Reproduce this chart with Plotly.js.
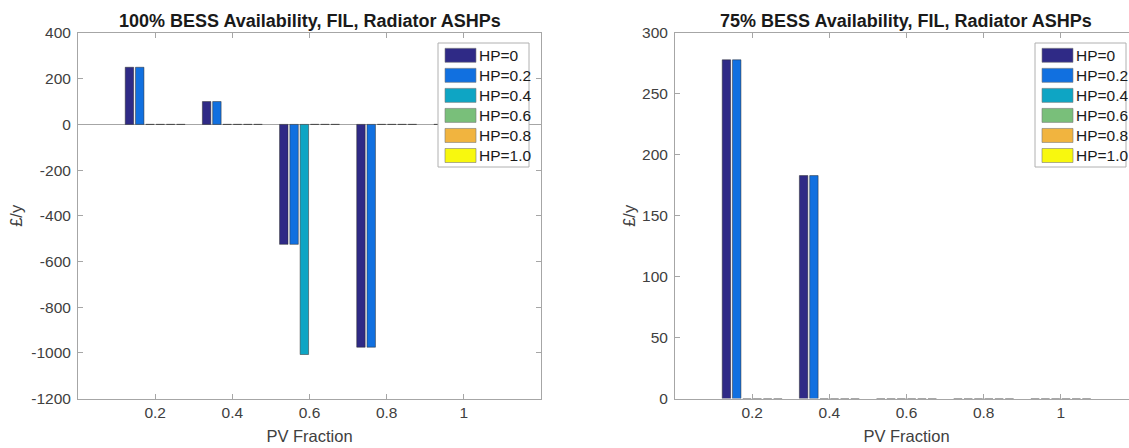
<!DOCTYPE html>
<html>
<head>
<meta charset="utf-8">
<script src="https://cdn.plot.ly/plotly-3.0.1.min.js"></script>
<style>
  html, body { margin: 0; padding: 0; overflow: hidden; background: #fff; }
  #chart { width: 1145px; height: 448px; }
</style>
</head>
<body>
<div id="chart"></div>
<script>
// ---------- data ----------
const pvFraction = [0.2, 0.4, 0.6, 0.8, 1.0];
const pvTickText = ['0.2', '0.4', '0.6', '0.8', '1'];
const hpLabels = ['HP=0', 'HP=0.2', 'HP=0.4', 'HP=0.6', 'HP=0.8', 'HP=1.0'];

const leftYTicks = [-1200, -1000, -800, -600, -400, -200, 0, 200, 400];
const leftYTickText = ['-1200', '-1000', '-800', '-600', '-400', '-200', '0', '200', '400'];
const rightYTicks = [0, 50, 100, 150, 200, 250, 300];
const rightYTickText = ['0', '50', '100', '150', '200', '250', '300'];

// 100% BESS availability (left panel), £/y
const full_hp00 = [250, 100, -525, -975, 0];
const full_hp02 = [250, 100, -525, -975, 0];
const full_hp04 = [0, 0, -1007, 0, 0];
const full_hp06 = [0, 0, 0, 0, 0];
const full_hp08 = [0, 0, 0, 0, 0];
const full_hp10 = [0, 0, 0, 0, 0];

// 75% BESS availability (right panel), £/y
const part_hp00 = [278, 183, 0, 0, 0];
const part_hp02 = [278, 183, 0, 0, 0];
const part_hp04 = [0, 0, 0, 0, 0];
const part_hp06 = [0, 0, 0, 0, 0];
const part_hp08 = [0, 0, 0, 0, 0];
const part_hp10 = [0, 0, 0, 0, 0];

const leftTitle = '100% BESS Availability, FIL, Radiator ASHPs';
const rightTitle = '75% BESS Availability, FIL, Radiator ASHPs';
const yTitle = '£/y';
const xTitle = 'PV Fraction';

// ---------- style ----------
const colors = ['#2f2a86', '#1170e0', '#0ea5c4', '#79bf7a', '#f1b43f', '#f8f80e'];
const FONT = 'Liberation Sans, Arial, sans-serif';
const W = 1145, H = 448;
const fx = p => p / W;
const fy = p => 1 - p / H;

const leftSeries = [full_hp00, full_hp02, full_hp04, full_hp06, full_hp08, full_hp10];
const rightSeries = [part_hp00, part_hp02, part_hp04, part_hp06, part_hp08, part_hp10];

const traces = [];
leftSeries.forEach((ys, i) => traces.push({
  type: 'bar', x: pvFraction, y: ys, name: hpLabels[i], xaxis: 'x', yaxis: 'y',
  marker: { color: colors[i], line: { color: '#2a2a2a', width: 0.5 } }, showlegend: false
}));
rightSeries.forEach((ys, i) => traces.push({
  type: 'bar', x: pvFraction, y: ys, name: hpLabels[i], xaxis: 'x2', yaxis: 'y2',
  marker: { color: colors[i], line: { color: '#2a2a2a', width: 0.5 } }, showlegend: false
}));

const axisCommon = {
  showline: true, linecolor: '#a6a6a6', linewidth: 1, mirror: 'ticks',
  ticks: 'inside', ticklen: 5, tickcolor: '#a6a6a6', showgrid: false,
  tickfont: { family: FONT, size: 15.5, color: '#404040' }
};

const panels = [
  { x0: 78, x1: 541 },
  { x0: 675, x1: 1138 }
];
const yTop = 33, yBot = 398.6;

function xAxis(p) {
  return Object.assign({}, axisCommon, {
    domain: [fx(p.x0), fx(p.x1)], range: [0, 1.2], tickvals: pvFraction, ticktext: pvTickText,
    zeroline: false,
    title: { text: xTitle, font: { family: FONT, size: 16.5, color: '#404040' }, standoff: 10 }
  });
}

const layout = {
  width: W, height: H,
  margin: { l: 0, r: 0, t: 0, b: 0 },
  paper_bgcolor: '#fff', plot_bgcolor: '#fff',
  barmode: 'group', bargap: 0.2, bargroupgap: 0.18,
  showlegend: false,
  xaxis: Object.assign(xAxis(panels[0]), { anchor: 'y' }),
  xaxis2: Object.assign(xAxis(panels[1]), { anchor: 'y2' }),
  yaxis: Object.assign({}, axisCommon, {
    domain: [fy(yBot), fy(yTop)], range: [-1200, 400], tickvals: leftYTicks, ticktext: leftYTickText,
    ticklabelstandoff: 3,
    zeroline: true, zerolinecolor: '#a6a6a6', zerolinewidth: 1, anchor: 'x',
    title: { text: yTitle, font: { family: FONT, size: 16.5, color: '#404040' }, standoff: 4 }
  }),
  yaxis2: Object.assign({}, axisCommon, {
    domain: [fy(yBot), fy(yTop)], range: [0, 300], tickvals: rightYTicks, ticktext: rightYTickText,
    ticklabelstandoff: 3,
    zeroline: false, anchor: 'x2',
    title: { text: yTitle, font: { family: FONT, size: 16.5, color: '#404040' }, standoff: 2 }
  }),
  annotations: [],
  shapes: []
};

// subplot titles
[leftTitle, rightTitle].forEach((t, k) => {
  const p = panels[k];
  layout.annotations.push({
    xref: 'paper', yref: 'paper', x: fx((p.x0 + p.x1) / 2), y: fy(21),
    xanchor: 'center', yanchor: 'middle', showarrow: false,
    text: '<b>' + t + '</b>', font: { family: FONT, size: 18, color: '#1a1a1a' }
  });
});

// legends (MATLAB-style, inside top-right of each axes)
panels.forEach(p => {
  const right = p.x1 - 12, left = right - 91, top = 43, bottom = 167;
  layout.shapes.push({
    type: 'rect', xref: 'paper', yref: 'paper',
    x0: fx(left), x1: fx(right), y0: fy(bottom), y1: fy(top),
    fillcolor: '#ffffff', line: { color: '#b0b0b0', width: 1 }, layer: 'above'
  });
  hpLabels.forEach((lab, i) => {
    const cy = 55.3 + 20.04 * i;
    layout.shapes.push({
      type: 'rect', xref: 'paper', yref: 'paper',
      x0: fx(left + 7), x1: fx(left + 38), y0: fy(cy + 7), y1: fy(cy - 7),
      fillcolor: colors[i], line: { color: '#7a7a7a', width: 0.6 }, layer: 'above'
    });
    layout.annotations.push({
      xref: 'paper', yref: 'paper', x: fx(left + 39), y: fy(cy),
      xanchor: 'left', yanchor: 'middle', showarrow: false,
      text: lab, font: { family: FONT, size: 15.5, color: '#1a1a1a' }
    });
  });
});

Plotly.newPlot('chart', traces, layout, { staticPlot: true, displayModeBar: false });
</script>
</body>
</html>
